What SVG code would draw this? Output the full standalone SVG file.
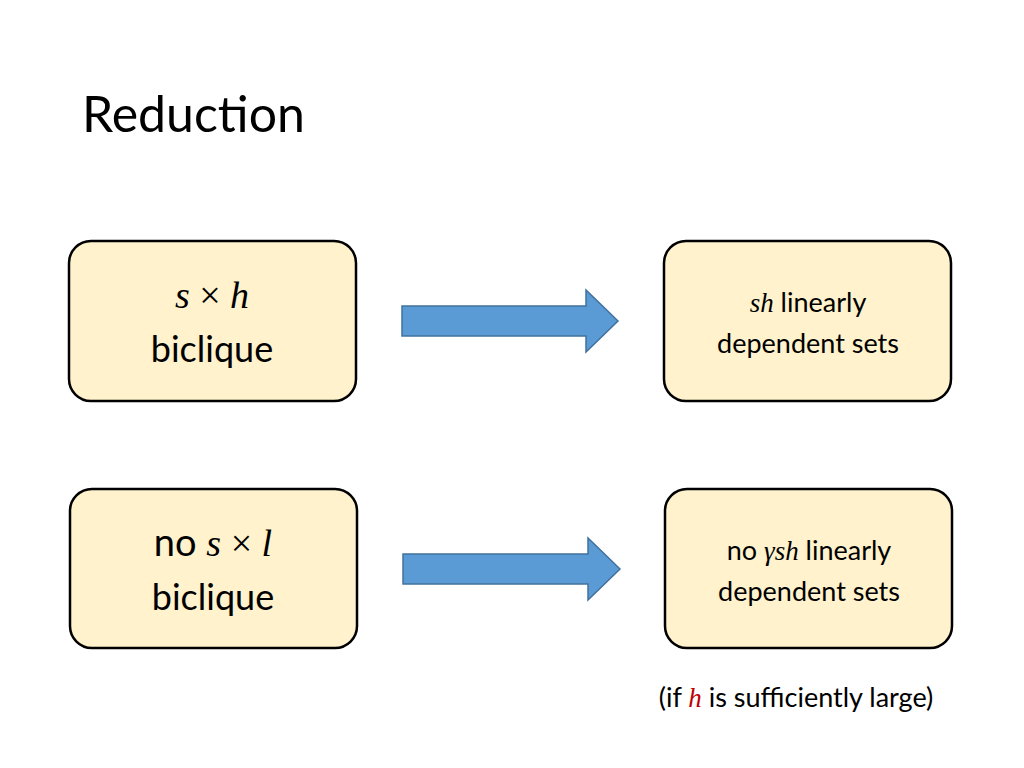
<svg xmlns="http://www.w3.org/2000/svg" width="1024" height="768" viewBox="0 0 1024 768">
<style>
.box{fill:#FFF2CC;stroke:#000;stroke-width:2.5}
.arr{fill:#5B9BD5;stroke:#41719C;stroke-width:1.5}
.t{font-family:Lato,"Liberation Sans",sans-serif;fill:#000}
.m{font-family:"Liberation Serif",serif;font-style:italic}
.r{font-family:"Liberation Serif",serif;font-style:normal}
</style>
<rect width="1024" height="768" fill="#fff"/>
<text class="t" x="82" y="132" font-size="50">Reduction</text>
<g id="n1"><rect class="box" x="69" y="241" width="287" height="160" rx="22"/>
<text class="t" x="212" y="308" font-size="38" text-anchor="middle"><tspan class="m">s</tspan><tspan class="r"> × </tspan><tspan class="m">h</tspan></text>
<text class="t" x="212" y="362" font-size="36" text-anchor="middle">biclique</text></g>
<g id="n2"><rect class="box" x="664" y="241" width="287" height="160" rx="22"/>
<text class="t" x="808" y="312" font-size="27" text-anchor="middle"><tspan class="m">sh</tspan> linearly</text>
<text class="t" x="808" y="353" font-size="27" text-anchor="middle">dependent sets</text></g>
<g id="n3"><rect class="box" x="70" y="489" width="287" height="159" rx="22"/>
<text class="t" x="213" y="556" font-size="38" text-anchor="middle">no <tspan class="m">s</tspan><tspan class="r"> × </tspan><tspan class="m">l</tspan></text>
<text class="t" x="213" y="610" font-size="36" text-anchor="middle">biclique</text></g>
<g id="n4"><rect class="box" x="665" y="489" width="287" height="159" rx="22"/>
<text class="t" x="809" y="560" font-size="27" text-anchor="middle">no <tspan class="m">γsh</tspan> linearly</text>
<text class="t" x="809" y="601" font-size="27" text-anchor="middle">dependent sets</text></g>
<g id="connectors">
<path class="arr" d="M402 306H586V290L618 321L586 352V336H402Z"/>
<path class="arr" d="M403 554H588V538L620 569L588 600V584H403Z"/>
</g>
<text class="t" x="796" y="707" font-size="27" text-anchor="middle">(if <tspan class="m" fill="#C00000">h</tspan> is sufficiently large)</text>
</svg>
